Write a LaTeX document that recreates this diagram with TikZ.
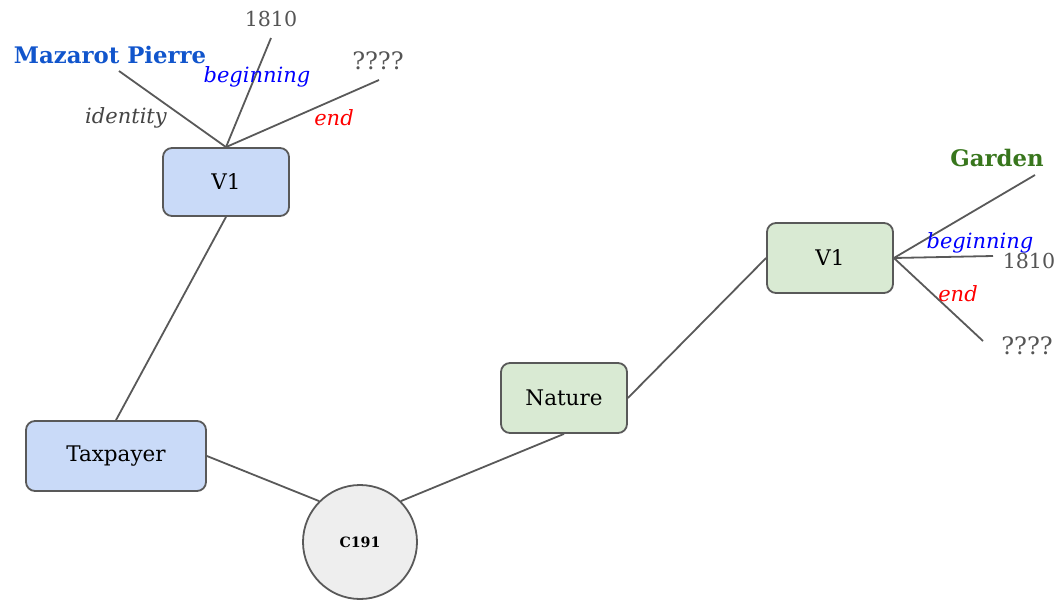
\documentclass[tikz,border=0pt]{standalone}
\usepackage{fontspec}
\setmainfont{DejaVu Serif}
\definecolor{edgec}{HTML}{595959}
\definecolor{bluefill}{HTML}{C9DAF8}
\definecolor{greenfill}{HTML}{D9EAD3}
\definecolor{greyfill}{HTML}{EEEEEE}
\definecolor{txtgrey}{HTML}{555555}
\definecolor{idgrey}{HTML}{444444}
\definecolor{nameblue}{HTML}{1155CC}
\definecolor{namegreen}{HTML}{38761D}
\begin{document}
\begin{tikzpicture}[x=1pt,y=-1pt,
  box/.style={draw=edgec,line width=1.8pt,rounded corners=9pt,minimum width=126pt,minimum height=68pt,inner sep=0pt,font=\fontsize{21.5}{25}\selectfont},
  bluebox/.style={box,fill=bluefill},
  greenbox/.style={box,fill=greenfill},
  conn/.style={draw=edgec,line width=1.8pt},
  vallab/.style={inner sep=0pt,text=txtgrey,font=\fontsize{20.6}{24}\selectfont},
  qlab/.style={vallab,font=\fontsize{24}{28}\selectfont},
  rolelab/.style={inner sep=0pt,font=\fontsize{21}{24}\selectfont\itshape},
  namelab/.style={inner sep=0pt,font=\fontsize{22.8}{26}\selectfont\bfseries}]
\useasboundingbox (0,0) rectangle (1061,600);
\node[bluebox] (v1a) at (226,182) {V1};
\node[bluebox,minimum width=180pt,minimum height=70pt] (tax) at (116,456) {Taxpayer};
\node[greenbox,minimum height=70pt] (nat) at (564,398) {Nature};
\node[greenbox,minimum height=70pt] (v1b) at (830,258) {V1};
\node[circle,draw=edgec,line width=1.8pt,fill=greyfill,minimum size=114pt,inner sep=0pt,font=\fontsize{14.2}{16}\selectfont\bfseries] (c) at (360,542) {C191};
% connectors
\draw[conn] (v1a.south) -- (tax.north);
\draw[conn] (tax.east) -- (c.north west);
\draw[conn] (c.north east) -- (nat.south);
\draw[conn] (nat.east) -- (v1b.west);
% spokes top
\coordinate (a1) at (119,71);
\coordinate (a2) at (271,38);
\coordinate (a3) at (379,80);
\draw[conn] (v1a.north) -- (a1);
\draw[conn] (v1a.north) -- (a2);
\draw[conn] (v1a.north) -- (a3);
\node[namelab,text=nameblue] (mp) at (110,55) {Mazarot Pierre};
\node[rolelab,text=idgrey] (id) at (126,118) {identity};
\node[vallab] (y1) at (271,19) {1810};
\node[rolelab,text=blue] (b1) at (257,77) {beginning};
\node[qlab] (q1) at (378,61) {????};
\node[rolelab,text=red] (e1) at (334,118) {end};
% spokes right
\coordinate (b1e) at (1035,175);
\coordinate (b2e) at (993,256);
\coordinate (b3e) at (983,341);
\draw[conn] (v1b.east) -- (b1e);
\draw[conn] (v1b.east) -- (b2e);
\draw[conn] (v1b.east) -- (b3e);
\node[namelab,text=namegreen] (gd) at (997,158) {Garden};
\node[rolelab,text=blue] (b2) at (980,243) {beginning};
\node[vallab] (y2) at (1029,261) {1810};
\node[rolelab,text=red] (e2) at (958,294) {end};
\node[qlab] (q2) at (1027,346) {????};
\end{tikzpicture}
\end{document}
